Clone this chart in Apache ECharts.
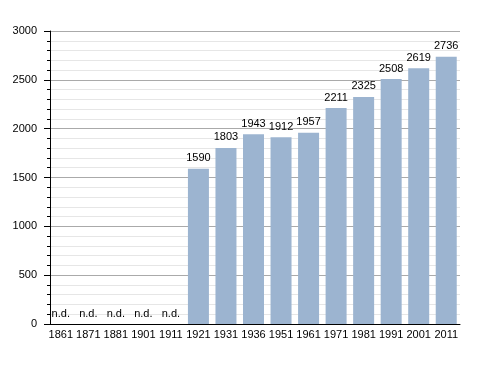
<!DOCTYPE html>
<html><head><meta charset="utf-8">
<script src="https://cdn.jsdelivr.net/npm/echarts@6/dist/echarts.min.js"></script>
<style>html,body{margin:0;padding:0;background:#fff}#c{width:488px;height:373px}</style>
</head><body><div id="c"></div>
<script>
var years = ['1861','1871','1881','1901','1911','1921','1931','1936','1951','1961','1971','1981','1991','2001','2011'];
var population = [null,null,null,null,null,1590,1803,1943,1912,1957,2211,2325,2508,2619,2736];
var missingLabel = 'n.d.';
var yTicks = [0,500,1000,1500,2000,2500,3000];

var font = 'Liberation Sans, Arial, sans-serif';
var chart = echarts.init(document.getElementById('c'), null, {renderer:'canvas'});
chart.setOption({
  animation:false,
  grid:{left:47,right:28,top:31,bottom:49,containLabel:false},
  xAxis:{
    type:'category', data:years,
    axisLine:{lineStyle:{color:'#000',width:1}},
    axisTick:{show:false},
    axisLabel:{color:'#000',fontSize:11,fontFamily:font,margin:5,interval:0}
  },
  yAxis:{
    type:'value', min:yTicks[0], max:yTicks[yTicks.length-1], interval:500,
    offset:-3,
    axisLine:{show:true,lineStyle:{color:'#000',width:1}},
    axisTick:{show:true,length:6,lineStyle:{color:'#000'}},
    minorTick:{show:true,splitNumber:5,length:3,lineStyle:{color:'#000'}},
    splitLine:{show:true,lineStyle:{color:'#aaaaaa',width:1}},
    minorSplitLine:{show:true,lineStyle:{color:'#e6e6e6',width:1}},
    axisLabel:{color:'#000',fontSize:11,fontFamily:font,margin:13,
      formatter:function(v){return String(v);}}
  },
  series:[{
    type:'bar', barWidth:21,
    data:population.map(function(v){return v===null?{value:0,isMissing:true}:v;}),
    itemStyle:{color:'#9cb4d0'},
    label:{show:true,position:'top',distance:5,color:'#000',fontSize:11,fontFamily:font,
      formatter:function(p){return p.data && p.data.isMissing ? missingLabel : String(p.value);}}
  }]
});
</script></body></html>
